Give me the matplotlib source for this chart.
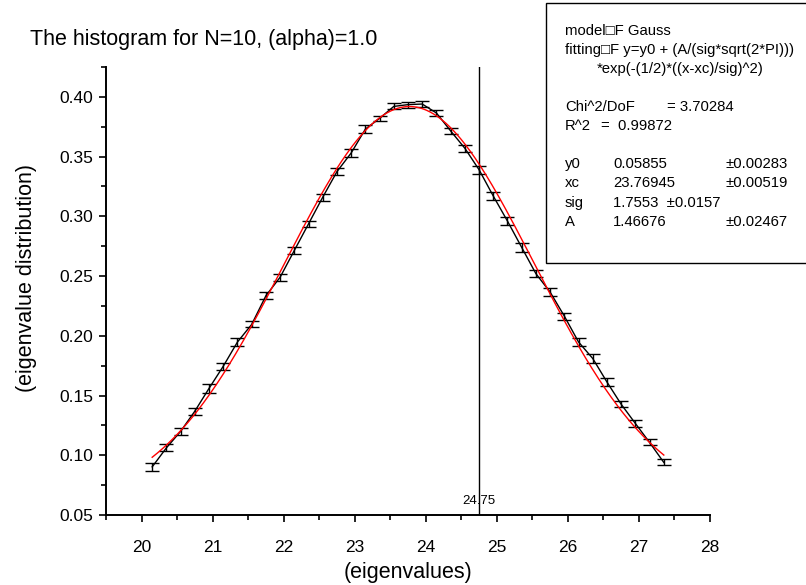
import numpy as np
import matplotlib
matplotlib.use("Agg")
import matplotlib.pyplot as plt
from matplotlib.ticker import MultipleLocator

plt.rcParams["font.family"] = ["Liberation Sans", "DejaVu Sans"]

# ── data ─────────────────────────────────────────────────────────────────────
eig_x = [20.15, 20.35, 20.55, 20.75, 20.95, 21.15, 21.35, 21.55, 21.75, 21.95,
         22.15, 22.35, 22.55, 22.75, 22.95, 23.15, 23.35, 23.55, 23.75, 23.95,
         24.15, 24.35, 24.55, 24.75, 24.95, 25.15, 25.35, 25.55, 25.75, 25.95,
         26.15, 26.35, 26.55, 26.75, 26.95, 27.15, 27.35]
dist_y = [0.0903, 0.1062, 0.1200, 0.1369, 0.1560, 0.1745, 0.1948, 0.2095, 0.2335, 0.2490,
          0.2714, 0.2937, 0.3160, 0.3374, 0.3530, 0.3730, 0.3820, 0.3920, 0.3935, 0.3940,
          0.3865, 0.3715, 0.3570, 0.3390, 0.3170, 0.2960, 0.2740, 0.2520, 0.2366, 0.2165,
          0.1948, 0.1810, 0.1613, 0.1427, 0.1266, 0.1107, 0.0940]
dist_err = [0.0035, 0.0030, 0.0030, 0.0030, 0.0035, 0.0030, 0.0035, 0.0025, 0.0030, 0.0030,
            0.0030, 0.0025, 0.0030, 0.0030, 0.0035, 0.0035, 0.0020, 0.0025, 0.0025, 0.0025,
            0.0025, 0.0025, 0.0030, 0.0035, 0.0035, 0.0035, 0.0035, 0.0030, 0.0030, 0.0030,
            0.0030, 0.0035, 0.0030, 0.0025, 0.0030, 0.0025, 0.0025]

# gauss fit parameters (from the fit report on the chart)
y0, xc, sig, A = 0.05855, 23.76945, 1.7553, 1.46676
MARK_X = 24.75

# ── figure ───────────────────────────────────────────────────────────────────
fig = plt.figure(figsize=(8.06, 5.85), dpi=100)
ax = fig.add_axes([106/806, 1 - 515/585, (710 - 106)/806, (515 - 67)/585])

xf = np.linspace(eig_x[0], eig_x[-1], 400)
yf = y0 + (A / (sig * np.sqrt(2 * np.pi))) * np.exp(-0.5 * ((xf - xc) / sig) ** 2)

ax.errorbar(eig_x, dist_y, yerr=dist_err, color="black", lw=1.0, elinewidth=1.0,
            capsize=4.8, capthick=1.0, zorder=3)
ax.plot(xf, yf, color="red", lw=1.0, zorder=4)
ax.axvline(MARK_X, color="black", lw=1.0)
ax.text(MARK_X, 0.0617, "24.75", ha="center", va="center", fontsize=9.5)

ax.set_xlim(19.5, 28)
ax.set_ylim(0.05, 0.425)
ax.xaxis.set_major_locator(MultipleLocator(1))
ax.xaxis.set_minor_locator(MultipleLocator(0.5))
ax.yaxis.set_major_locator(MultipleLocator(0.05))
ax.yaxis.set_minor_locator(MultipleLocator(0.025))
ax.yaxis.set_major_formatter(matplotlib.ticker.FormatStrFormatter("%.2f"))
ax.tick_params(which="major", direction="out", length=5, width=1.2, labelsize=12.5)
ax.tick_params(which="minor", direction="out", length=3.5, width=1.2)
ax.tick_params(axis="x", pad=13)
ax.tick_params(axis="y", pad=4)
for s in ["top", "right"]:
    ax.spines[s].set_visible(False)
for s in ["left", "bottom"]:
    ax.spines[s].set_linewidth(1.4)

ax.set_xlabel("(eigenvalues)", fontsize=15.5, labelpad=5)
ax.set_ylabel("(eigenvalue distribution)", fontsize=15.5)
ax.yaxis.set_label_coords(-0.115, 0.53)
fig.text(30/806, 1 - 40/585, "The histogram for N=10, (alpha)=1.0", fontsize=15.5,
         ha="left", va="center")

# fit report box
box = plt.Rectangle((546/806, 1 - 263/585), 300/806, 260/585, transform=fig.transFigure,
                    facecolor="white", edgecolor="black", lw=1.0, zorder=5)
fig.patches.append(box)

def rep(x, y, s):
    fig.text(x/806, 1 - y/585, s, fontsize=10.7, ha="left", va="center", zorder=6)

rep(565, 31, "model\u25a1F Gauss")
rep(565, 50, "fitting\u25a1F y=y0 + (A/(sig*sqrt(2*PI)))")
rep(597, 69, "*exp(-(1/2)*((x-xc)/sig)^2)")
rep(565, 107, "Chi^2/DoF")
rep(667, 107, "= 3.70284")
rep(565, 126, "R^2")
rep(601, 126, "=  0.99872")
rows = [("y0", "0.05855", "\u00b10.00283"), ("xc", "23.76945", "\u00b10.00519"),
        ("sig", "1.7553  \u00b10.0157", ""), ("A", "1.46676", "\u00b10.02467")]
for i, (name, val, err) in enumerate(rows):
    yy = 164 + i * 19.3
    rep(565, yy, name)
    rep(613, yy, val)
    if err:
        rep(725, yy, err)

plt.savefig("out.png", dpi=100)
